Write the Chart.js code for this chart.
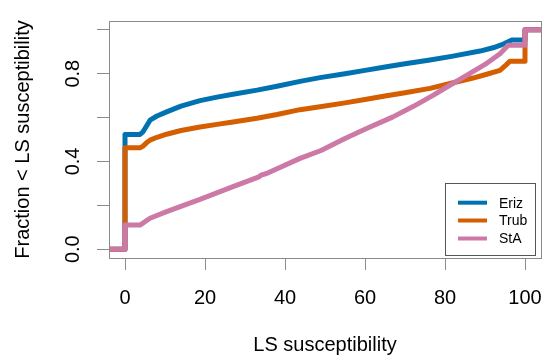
<!DOCTYPE html>
<html><head><meta charset="utf-8">
<script src="https://cdn.jsdelivr.net/npm/chart.js@4"></script>
<style>html,body{margin:0;padding:0;background:#fff}</style>
</head><body>
<canvas id="c" width="545" height="357"></canvas>
<script>
const seriesNames = ['Eriz', 'Trub', 'StA'];
const seriesColors = ['#0072B2', '#D55E00', '#CC79A7'];

const erizX = [-4, 0, 0, 3.75, 4.5, 5.5, 6.25, 8, 10.4, 14, 18.75, 23, 27, 33, 38, 43.75, 48.75, 55, 60, 65, 70, 76.25, 82, 88.75, 92, 94.6, 96.7, 100, 100, 104];
const erizY = [0, 0, 0.523, 0.523, 0.535, 0.565, 0.588, 0.607, 0.626, 0.652, 0.677, 0.693, 0.706, 0.725, 0.743, 0.765, 0.782, 0.8, 0.815, 0.83, 0.845, 0.862, 0.88, 0.903, 0.918, 0.935, 0.953, 0.953, 1, 1];

const trubX = [-4, 0, 0, 3.75, 4.5, 5.5, 6.25, 8, 10.4, 14, 18.75, 23, 27, 33, 38, 43.75, 48.75, 55, 60, 65, 70, 76.25, 81.25, 87, 90, 93.75, 95, 96.25, 100, 100, 104];
const trubY = [0, 0, 0.462, 0.462, 0.47, 0.487, 0.497, 0.51, 0.524, 0.541, 0.557, 0.569, 0.58, 0.597, 0.614, 0.636, 0.649, 0.667, 0.682, 0.698, 0.713, 0.733, 0.755, 0.78, 0.795, 0.815, 0.835, 0.857, 0.857, 1, 1];

const staX = [-4, 0, 0, 3.75, 6.25, 10.4, 18.75, 27, 33.5, 34, 35.4, 43.75, 49, 50, 55, 60.4, 67, 72, 77, 81, 85.4, 90, 93.75, 95.8, 100, 100, 104];
const staY = [0, 0, 0.11, 0.11, 0.141, 0.171, 0.227, 0.285, 0.33, 0.338, 0.345, 0.414, 0.45, 0.459, 0.505, 0.55, 0.603, 0.65, 0.701, 0.745, 0.792, 0.842, 0.891, 0.929, 0.929, 1, 1];

const xTickValues = [0, 20, 40, 60, 80, 100];
const yTickValues = [0, 0.2, 0.4, 0.6, 0.8, 1.0];
const yTickLabels = ['0.0', '', '0.4', '', '0.8', ''];

const FONT = "'Liberation Sans', Arial, Helvetica, sans-serif";
const AXIS_GRAY = '#8a8a8a';

function pts(xs, ys) { return xs.map((x, i) => ({ x: x, y: ys[i] })); }
const allX = [erizX, trubX, staX];
const allY = [erizY, trubY, staY];

const datasets = seriesNames.map((name, i) => ({
  label: name,
  data: pts(allX[i], allY[i]),
  borderColor: seriesColors[i],
  backgroundColor: seriesColors[i],
  borderWidth: 5,
  pointRadius: 0,
  tension: 0,
  fill: false,
  borderCapStyle: 'butt',
  borderJoinStyle: 'round',
  order: seriesNames.length - i
}));

const boxPlugin = {
  id: 'rbox',
  afterDatasetsDraw(chart) {
    const a = chart.chartArea, ctx = chart.ctx;
    ctx.save();
    ctx.strokeStyle = AXIS_GRAY;
    ctx.lineWidth = 1;
    ctx.strokeRect(Math.round(a.left) + 0.5, Math.round(a.top) + 0.5,
      Math.round(a.right - a.left), Math.round(a.bottom - a.top));
    ctx.restore();
  }
};

const legendPlugin = {
  id: 'rlegend',
  afterDraw(chart) {
    const ctx = chart.ctx;
    const bx = 445.5, by = 183.5, bw = 90, bh = 72;
    ctx.save();
    ctx.fillStyle = '#fff';
    ctx.fillRect(bx, by, bw, bh);
    ctx.strokeStyle = '#555';
    ctx.lineWidth = 1;
    ctx.strokeRect(bx, by, bw, bh);
    const rows = [202.7, 220.5, 238.5];
    chart.data.datasets.forEach((ds, i) => {
      const y = rows[i];
      ctx.strokeStyle = ds.borderColor;
      ctx.lineWidth = 4;
      ctx.lineCap = 'butt';
      ctx.beginPath();
      ctx.moveTo(458, y);
      ctx.lineTo(487, y);
      ctx.stroke();
      ctx.fillStyle = '#000';
      ctx.font = '14px ' + FONT;
      ctx.textAlign = 'left';
      ctx.textBaseline = 'middle';
      ctx.fillText(ds.label, 499, y + 1);
    });
    ctx.restore();
  }
};

new Chart(document.getElementById('c'), {
  type: 'line',
  data: { datasets: datasets },
  options: {
    responsive: false,
    animation: false,
    devicePixelRatio: 1,
    layout: { padding: { left: 0, right: 4, top: 21, bottom: 0 } },
    plugins: { legend: { display: false }, tooltip: { enabled: false } },
    scales: {
      x: {
        type: 'linear',
        min: -4, max: 104,
        afterBuildTicks(scale) { scale.ticks = xTickValues.map(v => ({ value: v })); },
        afterFit(scale) { scale.height = 99; scale.paddingLeft = 0; scale.paddingRight = 0; },
        border: { display: false },
        grid: { drawOnChartArea: false, drawTicks: true, tickLength: 12, color: AXIS_GRAY, tickColor: AXIS_GRAY },
        ticks: {
          autoSkip: false, maxRotation: 0, minRotation: 0, padding: 16,
          color: '#000', font: { family: FONT, size: 20 },
          callback: v => String(v)
        },
        title: {
          display: true, text: 'LS susceptibility', color: '#000',
          font: { family: FONT, size: 20 }, padding: { top: 0, bottom: 0 }
        }
      },
      y: {
        type: 'linear',
        min: -0.04, max: 1.04,
        afterBuildTicks(scale) { scale.ticks = yTickValues.map(v => ({ value: v })); },
        afterFit(scale) { scale.width = 109; scale.paddingTop = 0; scale.paddingBottom = 0; },
        border: { display: false },
        grid: { drawOnChartArea: false, drawTicks: true, tickLength: 12, color: AXIS_GRAY, tickColor: AXIS_GRAY },
        ticks: {
          autoSkip: false, minRotation: 90, maxRotation: 90, crossAlign: 'center', padding: 10,
          color: '#000', font: { family: FONT, size: 20 },
          callback: (v, i) => yTickLabels[i]
        },
        title: {
          display: true, text: 'Fraction < LS susceptibility', color: '#000',
          font: { family: FONT, size: 20 }, padding: { top: 11, bottom: 0 }
        }
      }
    }
  },
  plugins: [boxPlugin, legendPlugin]
});
</script>
</body></html>
